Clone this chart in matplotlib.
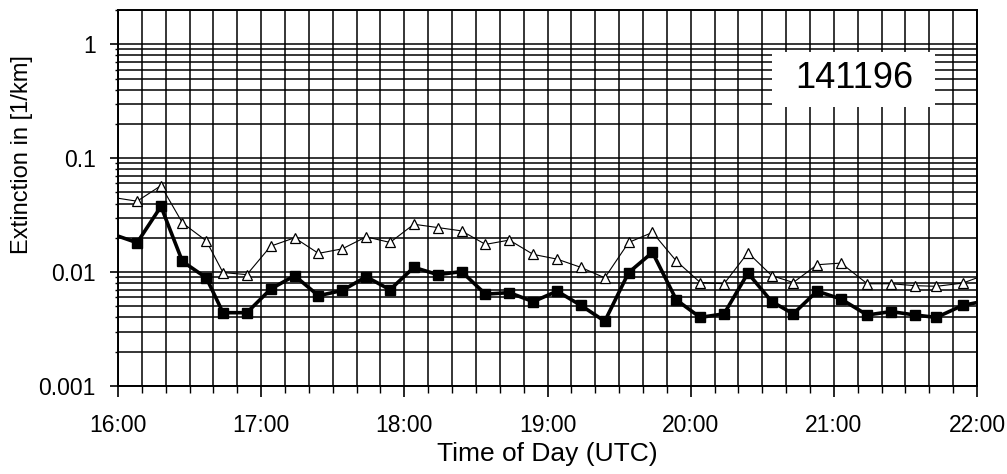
import numpy as np
import matplotlib
matplotlib.use("Agg")
import matplotlib.pyplot as plt
from matplotlib.ticker import FixedLocator, LogLocator, NullFormatter, MultipleLocator
from matplotlib.patches import Rectangle

plt.rcParams['font.family'] = ['Liberation Sans', 'DejaVu Sans']

# minutes after 16:00 UTC
t_min = [0, 8, 18, 27, 37, 44, 54, 64, 74, 84, 94, 104, 114, 124, 134, 144,
         154, 164, 174, 184, 194, 204, 214, 224, 234, 244, 254, 264, 274, 283,
         293, 303, 314, 324, 334, 343, 354, 360]

ext_squares = [0.0207, 0.0181, 0.0377, 0.0124, 0.0089, 0.0044, 0.0044, 0.0071,
               0.0093, 0.0062, 0.0069, 0.0091, 0.0070, 0.0110, 0.0095, 0.0101,
               0.0064, 0.0066, 0.0055, 0.0068, 0.0051, 0.0037, 0.0099, 0.0149,
               0.0057, 0.0040, 0.0043, 0.0098, 0.0055, 0.0043, 0.0068, 0.0058,
               0.0042, 0.0045, 0.0042, 0.0040, 0.0051, 0.0054]

ext_triangles = [0.0445, 0.0419, 0.0574, 0.0270, 0.0188, 0.0099, 0.0095, 0.0169,
                 0.0200, 0.0146, 0.0160, 0.0204, 0.0182, 0.0263, 0.0246, 0.0230,
                 0.0175, 0.0191, 0.0143, 0.0130, 0.0110, 0.0089, 0.0182, 0.0223,
                 0.0125, 0.0081, 0.0079, 0.0148, 0.0093, 0.0081, 0.0116, 0.0120,
                 0.0079, 0.0079, 0.0076, 0.0075, 0.0080, 0.0089]

hour_ticks = [0, 60, 120, 180, 240, 300, 360]
hour_labels = ["16:00", "17:00", "18:00", "19:00", "20:00", "21:00", "22:00"]
y_ticks = [0.001, 0.01, 0.1, 1]
y_labels = ["0.001", "0.01", "0.1", "1"]
date_label = "141196"

fig = plt.figure(figsize=(10.07, 4.74), dpi=100)
ax = fig.add_axes([0.1172, 0.1857, 0.8530, 0.7932])

ax.set_yscale('log')
ax.set_xlim(0, 360)
ax.set_ylim(0.001, 2)

ax.xaxis.set_major_locator(FixedLocator(hour_ticks))
ax.set_xticklabels(hour_labels)
ax.xaxis.set_minor_locator(MultipleLocator(10))
ax.yaxis.set_major_locator(FixedLocator(y_ticks))
ax.set_yticklabels(y_labels)
ax.yaxis.set_minor_locator(LogLocator(base=10, subs=np.arange(2, 10)))
ax.yaxis.set_minor_formatter(NullFormatter())

ax.grid(True, which='both', color='black', linewidth=1.1)
ax.set_axisbelow(True)

ax.tick_params(axis='x', which='major', length=8, width=1.2, pad=12,
               labelsize=16.5, direction='out')
ax.tick_params(axis='x', which='minor', length=5, width=1.0, direction='out')
ax.tick_params(axis='y', which='major', length=6, width=1.2, pad=10,
               labelsize=16.5, direction='out')
ax.tick_params(axis='y', which='minor', length=2, width=1.0, direction='out')
for sp in ax.spines.values():
    sp.set_linewidth(1.4)

ax.plot(t_min, ext_triangles, color='black', linewidth=0.8, marker='^',
        markersize=7.5, markerfacecolor='white', markeredgecolor='black',
        markeredgewidth=0.9, markevery=slice(1, -1), zorder=3)
ax.plot(t_min, ext_squares, color='black', linewidth=2.6, marker='s',
        markersize=7, markerfacecolor='black', markeredgecolor='black',
        markevery=slice(1, -1), zorder=4)

ax.add_patch(Rectangle((0.761, 0.743), 0.190, 0.146, transform=ax.transAxes,
                       facecolor='white', edgecolor='none', zorder=2))
ax.text(0.857, 0.818, date_label, transform=ax.transAxes, fontsize=26,
        ha='center', va='center', zorder=5)

ax.set_xlabel("Time of Day (UTC)", fontsize=19, labelpad=4)
fig.text(22 / 1007, 1 - 155 / 474, "Extinction in [1/km]", rotation=90,
         fontsize=17, ha='center', va='center')

fig.savefig("out.png", dpi=100)
